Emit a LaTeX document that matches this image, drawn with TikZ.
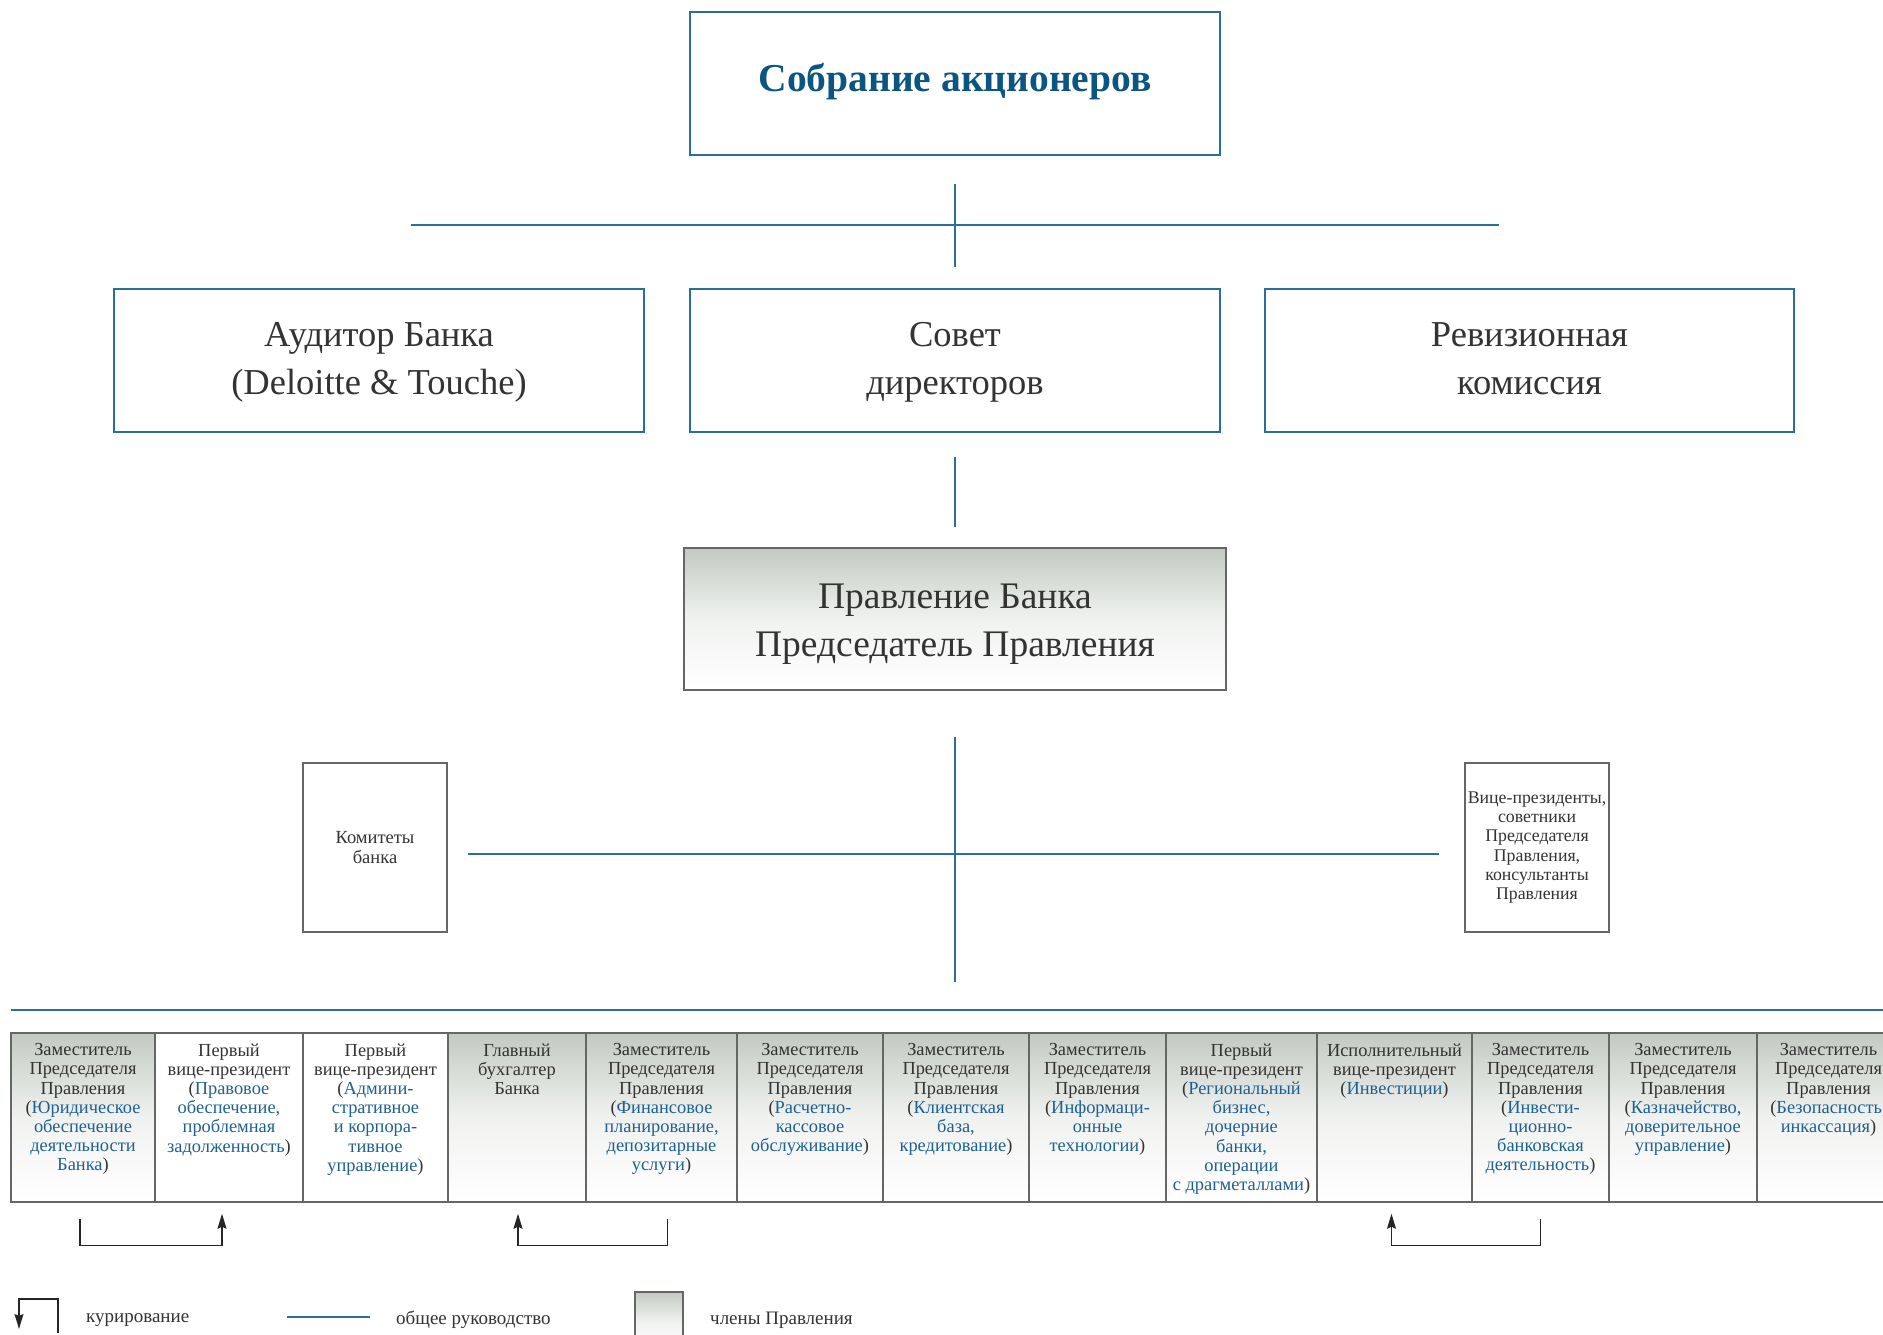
\documentclass[tikz,border=0pt]{standalone}
\usepackage{fontspec}
\setmainfont{Liberation Serif}
\usetikzlibrary{arrows.meta}
\definecolor{blueline}{HTML}{2B6E99}
\definecolor{bluetext}{HTML}{1E6190}
\definecolor{titleblue}{HTML}{0B5582}
\definecolor{txt}{HTML}{333333}
\definecolor{graybd}{HTML}{666666}
\definecolor{shade}{HTML}{C3CAC2}
\newcommand\myLP{{\color{txt}(}}
\newcommand\myRP{{\color{txt})}}
\begin{document}
\begin{tikzpicture}[x=1pt,y=-1pt,
  bluebox/.style={draw=blueline, line width=1.6pt, inner sep=0pt, align=center, text=txt},
  graybox/.style={draw=graybd, line width=1.5pt, inner sep=0pt, align=center, text=txt},
  shaded/.style={top color=shade, bottom color=white, middle color=shade!25!white},
  conn/.style={draw=blueline, line width=2pt},
  curarrow/.style={draw=black!85, line width=1.3pt, -{Stealth[length=15pt,width=9pt,inset=2pt]}},
  bigtext/.style={font=\fontsize{36.5}{48}\selectfont},
  smalltext/.style={font=\fontsize{18.4}{19.2}\selectfont},
  sidetext/.style={font=\fontsize{17.8}{19.2}\selectfont},
  legtext/.style={font=\fontsize{19}{22}\selectfont, text=txt, anchor=west, inner sep=0pt},
  coltext/.style={smalltext, inner sep=0pt, align=center, text=txt, anchor=north, yshift=-11pt},
  bbox/.style={graybox, minimum height=169pt}
]
\useasboundingbox (0,0) rectangle (1883,1335);
\fill[white] (0,0) rectangle (1883,1335);
\clip (0,0) rectangle (1883,1335);

% top
\node[bluebox, minimum width=530pt, minimum height=143pt, font=\fontsize{39.5}{44}\selectfont\bfseries, text=titleblue, text depth=13pt] (top) at (955,83.5) {Собрание акционеров};

% row 2
\node[bluebox, bigtext, minimum width=530pt, minimum height=143pt] (aud) at (379,360.5) {\strut Аудитор Банка\\\strut (Deloitte \& Touche)};
\node[bluebox, bigtext, minimum width=530pt, minimum height=143pt] (sovet) at (955,360.5) {\strut Совет\\\strut директоров};
\node[bluebox, bigtext, minimum width=529pt, minimum height=143pt] (rev) at (1529.5,360.5) {\strut Ревизионная\\\strut комиссия};

% board
\node[graybox, shaded, minimum width=542pt, minimum height=142pt] (pravl) at (955,619) {};
\node[font=\fontsize{37.5}{48}\selectfont, text=txt, align=center, inner sep=0pt] (pravlt) at ([yshift=-4pt]pravl.center) {\strut Правление Банка\\\strut Председатель Правления};

% side boxes
\node[graybox, font=\fontsize{18.5}{19.2}\selectfont, minimum width=144pt, minimum height=169pt] (kom) at (375,847.5) {Комитеты\\банка};
\node[graybox, sidetext, minimum width=144pt, minimum height=169pt] (vice) at (1537,847.5) {Вице-президенты,\\советники\\Председателя\\Правления,\\консультанты\\Правления};

% connectors
\coordinate (h1l) at (411,225);
\coordinate (h1r) at (1499,225);
\draw[conn] (h1l) -- (h1r);
\draw[conn] ([yshift=-28pt]top.south) -- ([yshift=21pt]sovet.north);
\draw[conn] ([yshift=-24pt]sovet.south) -- ([yshift=20pt]pravl.north);
\coordinate (v3end) at (955,982);
\draw[conn] ([yshift=-46pt]pravl.south) -- (v3end);
\draw[conn] ([xshift=20pt,yshift=-6.5pt]kom.east) -- ([xshift=-25pt,yshift=-6.5pt]vice.west);
\coordinate (longl) at (11,1010);
\coordinate (longr) at (1890,1010);
\draw[conn] (longl) -- (longr);

% bottom boxes
\node[bbox, shaded, minimum width=144pt] (b1) at (83,1117.5) {};
\node[bbox, minimum width=148pt] (b2) at (229,1117.5) {};
\node[bbox, minimum width=145pt] (b3) at (375.5,1117.5) {};
\node[bbox, shaded, minimum width=138pt] (b4) at (517,1117.5) {};
\node[bbox, shaded, minimum width=151pt] (b5) at (661.5,1117.5) {};
\node[bbox, shaded, minimum width=146pt] (b6) at (810,1117.5) {};
\node[bbox, shaded, minimum width=146pt] (b7) at (956,1117.5) {};
\node[bbox, shaded, minimum width=137pt] (b8) at (1097.5,1117.5) {};
\node[bbox, shaded, minimum width=151pt] (b9) at (1241.5,1117.5) {};
\node[bbox, shaded, minimum width=155pt] (b10) at (1394.5,1117.5) {};
\node[bbox, shaded, minimum width=137pt] (b11) at (1540.5,1117.5) {};
\node[bbox, shaded, minimum width=148pt] (b12) at (1683,1117.5) {};
\node[bbox, shaded, minimum width=143pt] (b13) at (1828.5,1117.5) {};

\node[coltext] (t1) at (b1.north) {Заместитель\\Председателя\\Правления\\\color{bluetext}\myLP Юридическое\\\color{bluetext}обеспечение\\\color{bluetext}деятельности\\\color{bluetext}Банка\myRP};
\node[coltext] (t2) at (b2.north) {Первый\\вице-президент\\\color{bluetext}\myLP Правовое\\\color{bluetext}обеспечение,\\\color{bluetext}проблемная\\\color{bluetext}задолженность\myRP};
\node[coltext] (t3) at (b3.north) {Первый\\вице-президент\\\color{bluetext}\myLP Админи-\\\color{bluetext}стративное\\\color{bluetext}и корпора-\\\color{bluetext}тивное\\\color{bluetext}управление\myRP};
\node[coltext] (t4) at (b4.north) {Главный\\бухгалтер\\Банка};
\node[coltext] (t5) at (b5.north) {Заместитель\\Председателя\\Правления\\\color{bluetext}\myLP Финансовое\\\color{bluetext}планирование,\\\color{bluetext}депозитарные\\\color{bluetext}услуги\myRP};
\node[coltext] (t6) at (b6.north) {Заместитель\\Председателя\\Правления\\\color{bluetext}\myLP Расчетно-\\\color{bluetext}кассовое\\\color{bluetext}обслуживание\myRP};
\node[coltext] (t7) at (b7.north) {Заместитель\\Председателя\\Правления\\\color{bluetext}\myLP Клиентская\\\color{bluetext}база,\\\color{bluetext}кредитование\myRP};
\node[coltext] (t8) at (b8.north) {Заместитель\\Председателя\\Правления\\\color{bluetext}\myLP Информаци-\\\color{bluetext}онные\\\color{bluetext}технологии\myRP};
\node[coltext] (t9) at (b9.north) {Первый\\вице-президент\\\color{bluetext}\myLP Региональный\\\color{bluetext}бизнес,\\\color{bluetext}дочерние\\\color{bluetext}банки,\\\color{bluetext}операции\\\color{bluetext}с драгметаллами\myRP};
\node[coltext] (t10) at (b10.north) {Исполнительный\\вице-президент\\\color{bluetext}\myLP Инвестиции\myRP};
\node[coltext] (t11) at (b11.north) {Заместитель\\Председателя\\Правления\\\color{bluetext}\myLP Инвести-\\\color{bluetext}ционно-\\\color{bluetext}банковская\\\color{bluetext}деятельность\myRP};
\node[coltext] (t12) at (b12.north) {Заместитель\\Председателя\\Правления\\\color{bluetext}\myLP Казначейство,\\\color{bluetext}доверительное\\\color{bluetext}управление\myRP};
\node[coltext] (t13) at (b13.north) {Заместитель\\Председателя\\Правления\\\color{bluetext}\myLP Безопасность,\\\color{bluetext}инкассация\myRP};

% curation brackets
\draw[curarrow] ([xshift=-3pt,yshift=-16pt]b1.south) -- ++(0,27) -| ([xshift=-7pt,yshift=-11pt]b2.south);
\draw[curarrow] ([xshift=6pt,yshift=-16pt]b5.south) -- ++(0,27) -| ([xshift=1pt,yshift=-11pt]b4.south);
\draw[curarrow] ([yshift=-16pt]b11.south) -- ++(0,27) -| ([xshift=-3pt,yshift=-11pt]b10.south);

% legend
\coordinate (lc1) at (58,1333);
\coordinate (lc2) at (19,1299);
\coordinate (lc3) at (19,1329);
\draw[curarrow] (lc1) |- (lc2) -- (lc3);
\node[legtext] (lgt1) at (86,1320) {курирование};
\coordinate (ll1) at (287,1317);
\coordinate (ll2) at (370,1317);
\draw[conn] (ll1) -- (ll2);
\node[legtext] (lgt2) at (396,1320) {общее руководство};
\node[graybox, shaded, minimum width=48pt, minimum height=60pt] (lgbox) at (659,1322) {};
\node[legtext] (lgt3) at (710,1320) {члены Правления};
\end{tikzpicture}
\end{document}
